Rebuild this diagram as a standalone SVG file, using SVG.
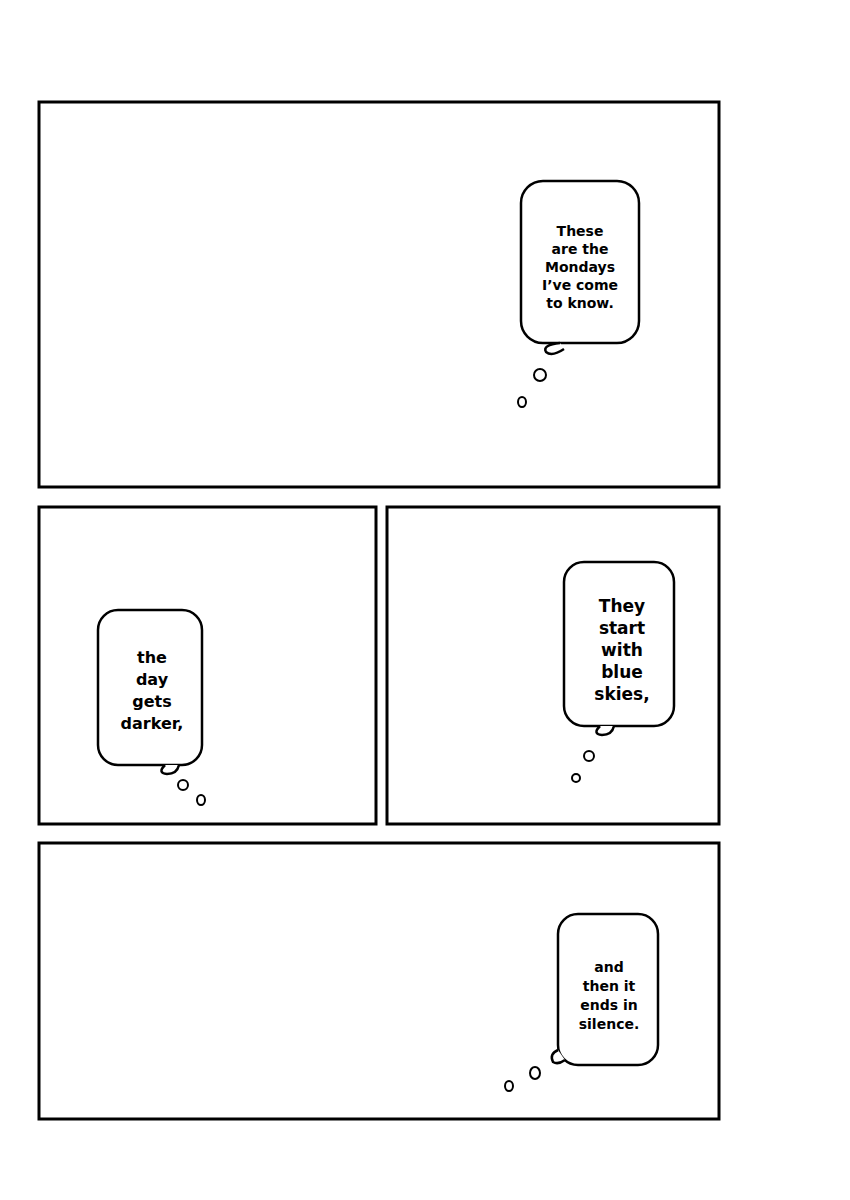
<svg xmlns="http://www.w3.org/2000/svg" width="850" height="1200" viewBox="0 0 850 1200">
<style>
.p{fill:#fff;stroke:#000;stroke-width:3}
.b{fill:#fff;stroke:#000;stroke-width:2.5}
.c{fill:#fff;stroke:#000;stroke-width:2}
text{font-family:"DejaVu Sans",sans-serif;font-weight:bold;text-anchor:middle;fill:#000}
</style>
<rect width="850" height="1200" fill="#fff"/>
<g id="panel1"><rect class="p" x="39" y="102" width="680" height="385"/></g>
<g id="panel2"><rect class="p" x="39" y="507" width="337" height="317"/></g>
<g id="panel3"><rect class="p" x="387" y="507" width="332" height="317"/></g>
<g id="panel4"><rect class="p" x="39" y="843" width="680" height="276"/></g>
<g id="bubble1">
<rect class="b" x="521" y="181" width="118" height="162" rx="22"/>
<path class="b" d="M560 343 q-18 2 -14 9 q6 5 18 -3"/>
<ellipse class="c" cx="540" cy="375" rx="6" ry="6"/>
<ellipse class="c" cx="522" cy="402" rx="4" ry="5"/>
<text font-size="14"><tspan x="580" y="236">These</tspan><tspan x="580" y="254">are the</tspan><tspan x="580" y="272">Mondays</tspan><tspan x="580" y="290">I’ve come</tspan><tspan x="580" y="308">to know.</tspan></text>
</g>
<g id="bubble2">
<rect class="b" x="98" y="610" width="104" height="155" rx="20"/>
<path class="b" d="M165 765 q-8 8 2 9 q10 0 12 -9"/>
<ellipse class="c" cx="183" cy="785" rx="5" ry="5"/>
<ellipse class="c" cx="201" cy="800" rx="4" ry="5"/>
<text font-size="16"><tspan x="152" y="663">the</tspan><tspan x="152" y="685">day</tspan><tspan x="152" y="707">gets</tspan><tspan x="152" y="729">darker,</tspan></text>
</g>
<g id="bubble3">
<rect class="b" x="564" y="562" width="110" height="164" rx="20"/>
<path class="b" d="M600 726 q-8 8 2 9 q10 0 12 -9"/>
<ellipse class="c" cx="589" cy="756" rx="5" ry="5"/>
<ellipse class="c" cx="576" cy="778" rx="4" ry="4"/>
<text font-size="17"><tspan x="622" y="612">They</tspan><tspan x="622" y="634">start</tspan><tspan x="622" y="656">with</tspan><tspan x="622" y="678">blue</tspan><tspan x="622" y="700">skies,</tspan></text>
</g>
<g id="bubble4">
<rect class="b" x="558" y="914" width="100" height="151" rx="20"/>
<path class="b" d="M558 1050 q-9 4 -5 12 q5 3 12 -2"/>
<ellipse class="c" cx="535" cy="1073" rx="5" ry="6"/>
<ellipse class="c" cx="509" cy="1086" rx="4" ry="5"/>
<text font-size="14"><tspan x="609" y="972">and</tspan><tspan x="609" y="991">then it</tspan><tspan x="609" y="1010">ends in</tspan><tspan x="609" y="1029">silence.</tspan></text>
</g>
<g id="connectors"/>
</svg>
